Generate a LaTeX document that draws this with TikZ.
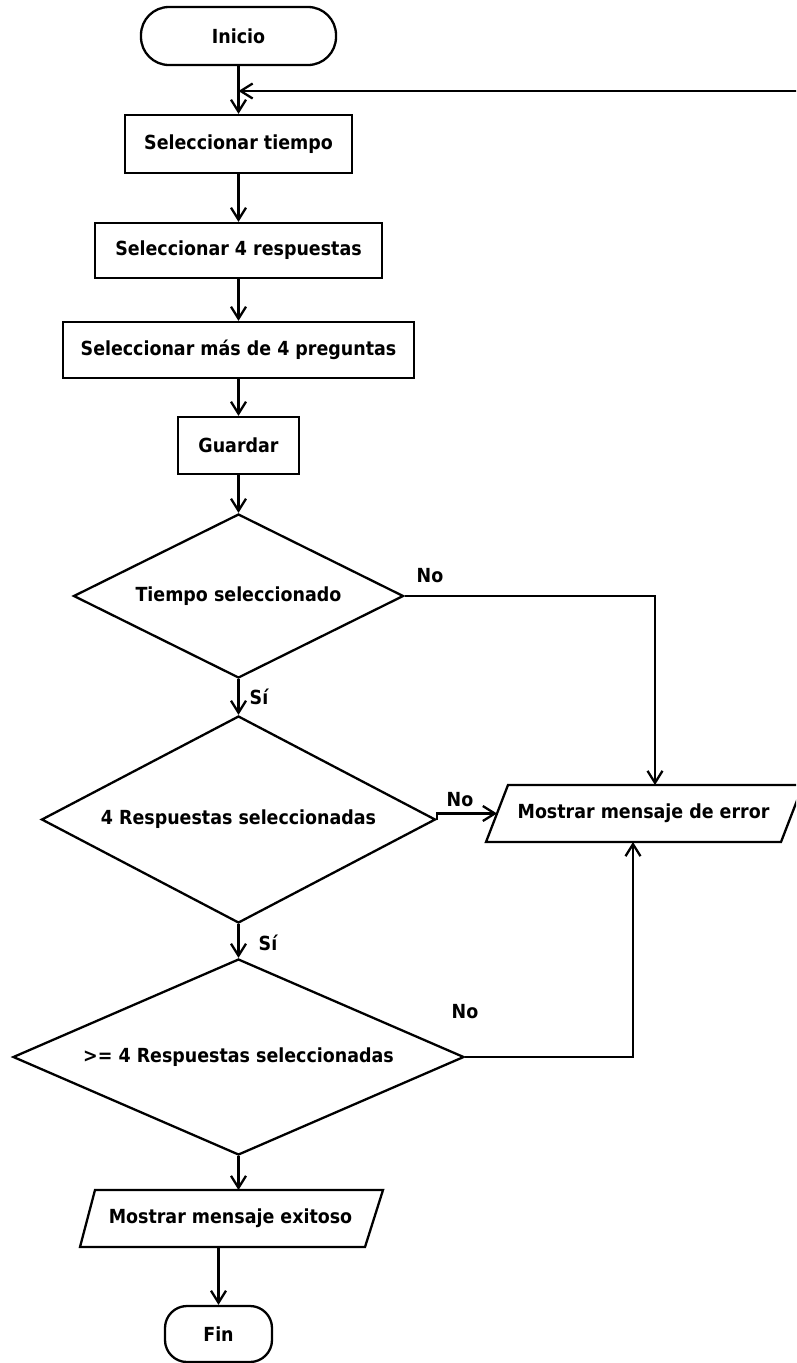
\documentclass[tikz,border=0pt]{standalone}
\usepackage{fontspec}
\setmainfont{DejaVu Sans Condensed}
\usetikzlibrary{arrows.meta,shapes.geometric,calc}
\begin{document}
\begin{tikzpicture}[x=1pt,y=-1pt,
  every node/.style={font=\bfseries\fontsize{19.4}{22}\selectfont, text=black, inner sep=0pt},
  shapeline/.style={draw=black, line width=2.3pt},
  flow/.style={draw=black, line width=2.3pt, -{Straight Barb[length=12pt,width=15pt]}},
  term/.style={shapeline, rectangle, rounded corners=28pt},
  stepbox/.style={shapeline, rectangle},
  decision/.style={shapeline, diamond},
  lbl/.style={}
]
% page frame
\path[use as bounding box, fill=white] (0,0) rectangle (796,1363);
\clip (0,0) rectangle (796,1363);

% main column
\node[term, minimum width=195pt, minimum height=58pt] (ini) at (238.5,36) {Inicio};
\node[stepbox, minimum width=227pt, minimum height=58pt] (tiempo) at (238.5,144) {Seleccionar tiempo};
\node[stepbox, minimum width=287pt, minimum height=55pt] (resp) at (238.5,250.5) {Seleccionar 4 respuestas};
\node[stepbox, minimum width=351pt, minimum height=56pt] (preg) at (238.5,350) {Seleccionar más de 4 preguntas};
\node[stepbox, minimum width=121pt, minimum height=57pt] (guardar) at (238.5,445.5) {Guardar};

\node[decision, aspect=2, minimum width=330pt, minimum height=164pt] (d1) at (238.5,596) {Tiempo seleccionado};
\node[decision, aspect=1.9, minimum width=394pt, minimum height=207pt] (d2) at (238.5,819.5) {4 Respuestas seleccionadas};
\node[decision, aspect=2.3, minimum width=451pt, minimum height=196pt] (d3) at (238.5,1057) {>= 4 Respuestas seleccionadas};

% success output (parallelogram)
\node (ok) at (230.5,1218.5) {Mostrar mensaje exitoso};
\draw[shapeline, line join=miter] (95,1190) -- (383,1190) -- (365,1247) -- (80,1247) -- cycle;
\coordinate (oktop) at (238.5,1190);
\coordinate (okbot) at (218.5,1247);

\node[term, minimum width=107pt, minimum height=56pt, rounded corners=22pt] (fin) at (218.5,1334) {Fin};

% error output (parallelogram)
\node (err) at (643.5,813.5) {Mostrar mensaje de error};
\draw[shapeline, line join=miter] (508,785) -- (803,785) -- (781,842) -- (486,842) -- cycle;
\coordinate (errtop) at (655,785);
\coordinate (errleft) at (497,813.5);
\coordinate (errbot) at (633,842);

% loop entry from the right
\coordinate (loopin) at (800,91);

% connectors
\draw[flow] (ini) -- (tiempo);
\draw[flow] (loopin) -- (ini.south |- loopin);
\draw[flow] (tiempo) -- (resp);
\draw[flow] (resp) -- (preg);
\draw[flow] (preg) -- (guardar);
\draw[flow] (guardar) -- (d1);
\draw[flow] (d1) -- (d2);
\draw[flow] (d2) -- (d3);
\draw[flow] (d3.south) -- (oktop);
\draw[flow] (okbot) -- (fin);
\draw[flow] (d1.east) -| (errtop);
\draw[flow] (d2.east) |- (errleft);
\draw[flow] (d3.east) -| (errbot);

% branch labels
\node[lbl] (no1) at (430,576) {No};
\node[lbl] (si1) at (259,697) {Sí};
\node[lbl] (no2) at (460,800) {No};
\node[lbl] (si2) at (268,943) {Sí};
\node[lbl] (no3) at (465,1012) {No};
\end{tikzpicture}
\end{document}
